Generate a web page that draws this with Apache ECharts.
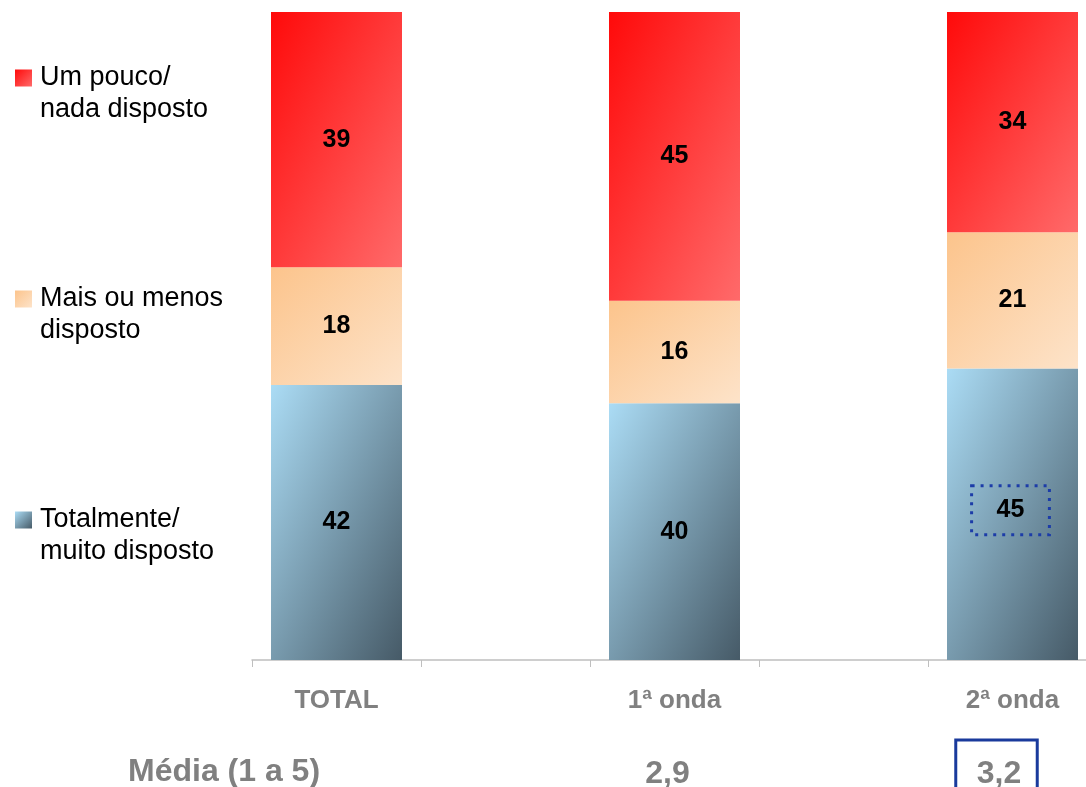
<!DOCTYPE html>
<html>
<head>
<meta charset="utf-8">
<script src="https://cdn.jsdelivr.net/npm/echarts@6/dist/echarts.min.js"></script>
<style>html,body{margin:0;padding:0;background:#fff}#c{width:1086px;height:787px}</style>
</head>
<body>
<div id="c"></div>
<script>
const categories = ['TOTAL', '', '1ª onda', '', '2ª onda'];
const totalmente = [42, null, 40, null, 45];
const maisOuMenos = [18, null, 16, null, 21];
const umPouco = [39, null, 45, null, 34];
const mediaLabels = ['', '', '2,9', '', '3,2'];
const mediaTitle = 'Média (1 a 5)';
const seriesNames = ['Totalmente/\nmuito disposto', 'Mais ou menos\ndisposto', 'Um pouco/\nnada disposto'];
const highlightCategory = 4; // 2ª onda

const GRID_TOP = 12, GRID_BOTTOM = 127, CHART_H = 787, BAR_W = 131;
const GRID_H = CHART_H - GRID_TOP - GRID_BOTTOM;
const FONT = 'Liberation Sans, Arial, sans-serif';

const gradStops = [
  ['#abdcf5', '#465a67'],
  ['#fcc48c', '#fde3c9'],
  ['#ff0a0a', '#ff6a6a']
];
function grad(stops, x2, y2) {
  return new echarts.graphic.LinearGradient(0, 0, x2, y2, [
    { offset: 0, color: stops[0] }, { offset: 1, color: stops[1] }
  ]);
}
// diagonal gradient whose iso-lines run corner to corner of each segment
function segGrad(stops, share) {
  const h = share / 100 * GRID_H, w = BAR_W;
  const s = h * h + w * w;
  return grad(stops, 2 * h * h / s, 2 * w * w / s);
}

const totals = categories.map((c, i) => (totalmente[i] || 0) + (maisOuMenos[i] || 0) + (umPouco[i] || 0));
function norm(arr, seriesIdx) {
  return arr.map((v, i) => {
    if (v == null) return '-';
    const share = v / totals[i] * 100;
    const item = { value: share, raw: v, itemStyle: { color: segGrad(gradStops[seriesIdx], share) } };
    if (seriesIdx === 0 && i === highlightCategory) {
      item.label = {
        borderType: [3, 6], borderWidth: 3, borderColor: '#1c3ca8',
        padding: [12, 25, 12, 25], offset: [-2, -4]
      };
    }
    return item;
  });
}
const dataLabel = {
  show: true, position: 'inside', color: '#000', fontWeight: 'bold', fontSize: 25,
  fontFamily: FONT,
  formatter: p => p.data.raw
};
const valueStyle = { color: '#808080', fontWeight: 'bold', fontSize: 32, fontFamily: FONT };
const chart = echarts.init(document.getElementById('c'));
chart.setOption({
  animation: false,
  grid: { left: 252, right: -11, top: GRID_TOP, bottom: GRID_BOTTOM, containLabel: false, outerBoundsMode: 'none' },
  legend: {
    orient: 'vertical', left: 15, top: 30, padding: 0, itemGap: 125,
    itemWidth: 17, itemHeight: 17, icon: 'rect',
    data: [seriesNames[2], seriesNames[1], seriesNames[0]],
    formatter: n => ' \n' + n,
    textStyle: { fontSize: 27, lineHeight: 32, color: '#000', fontFamily: FONT, padding: [0, 0, 0, 3] }
  },
  xAxis: [{
    type: 'category', data: categories,
    axisLine: { show: true, lineStyle: { color: '#bfbfbf', width: 1.5 } },
    axisTick: { show: true, length: 7, interval: 0, lineStyle: { color: '#bfbfbf', width: 1 } },
    axisLabel: { interval: 0, margin: 28, color: '#808080', fontWeight: 'bold', fontSize: 26, fontFamily: FONT }
  }, {
    type: 'category', data: categories, position: 'bottom', offset: 80,
    axisLine: { show: false }, axisTick: { show: false },
    axisLabel: {
      interval: 0, margin: 0, padding: [0, 32, 0, 0],
      formatter: (v, i) => i === highlightCategory ? '{box|' + mediaLabels[i] + '}' : '{v|' + mediaLabels[i] + '}',
      rich: {
        v: Object.assign({ padding: [18, 16, 20, 34] }, valueStyle),
        box: Object.assign({ padding: [18, 16, 20, 21], borderColor: '#1a3a9c', borderWidth: 3 }, valueStyle)
      }
    }
  }],
  yAxis: { type: 'value', min: 0, max: 100, show: false },
  graphic: [{
    type: 'text', left: 128, top: 756,
    style: { text: mediaTitle, fill: '#808080', font: 'bold 32px Liberation Sans, Arial, sans-serif' }
  }],
  series: [
    { name: seriesNames[0], type: 'bar', stack: 's', barWidth: BAR_W, data: norm(totalmente, 0), itemStyle: { color: grad(gradStops[0], 1, 1) }, label: dataLabel },
    { name: seriesNames[1], type: 'bar', stack: 's', barWidth: BAR_W, data: norm(maisOuMenos, 1), itemStyle: { color: grad(gradStops[1], 1, 1) }, label: dataLabel },
    { name: seriesNames[2], type: 'bar', stack: 's', barWidth: BAR_W, data: norm(umPouco, 2), itemStyle: { color: grad(gradStops[2], 1, 1) }, label: dataLabel }
  ]
});
</script>
</body>
</html>
